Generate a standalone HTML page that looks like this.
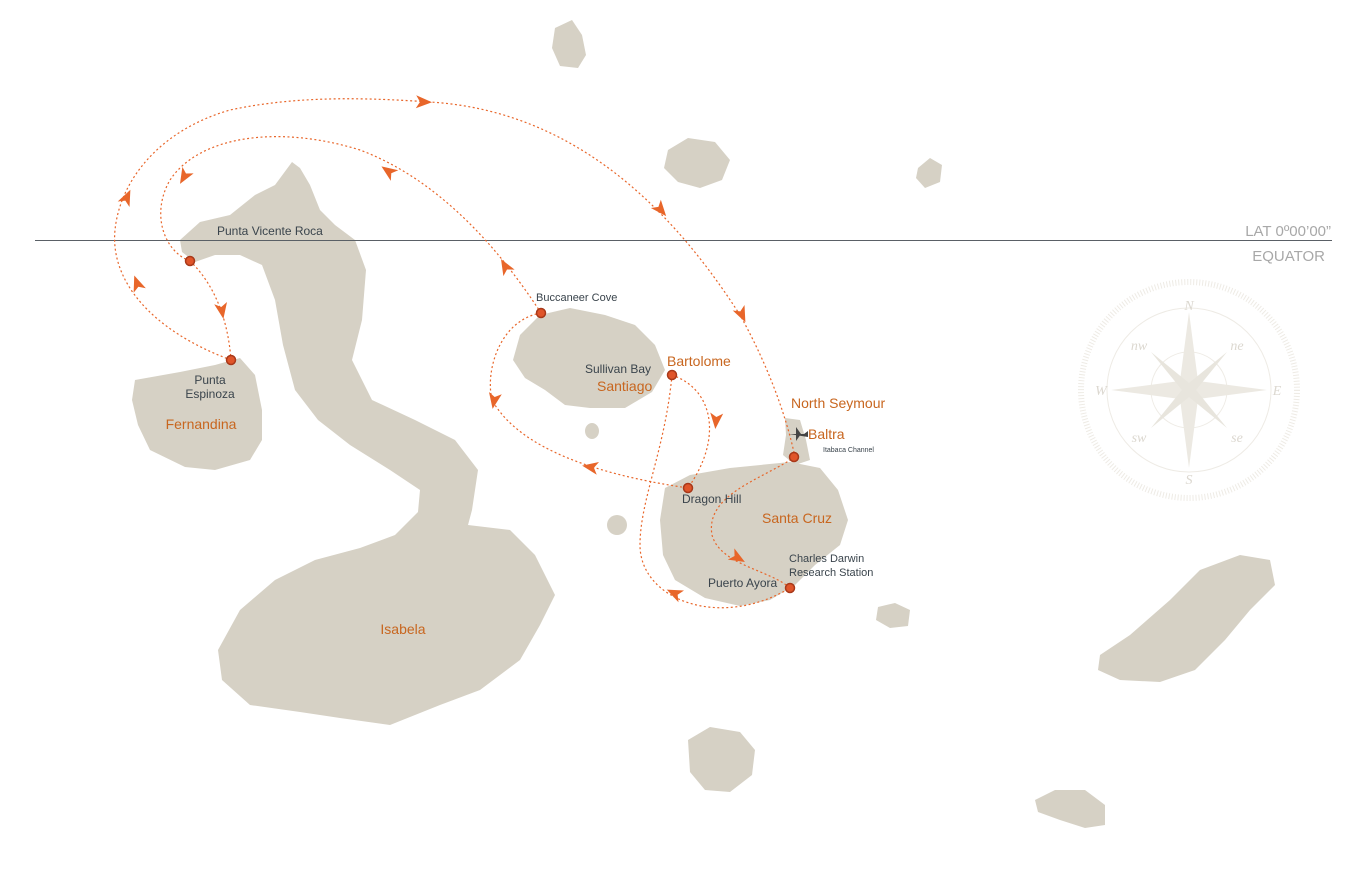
<!DOCTYPE html>
<html><head><meta charset="utf-8"><style>
html,body{margin:0;padding:0;background:#fff;}
svg{display:block;font-family:"Liberation Sans",sans-serif;}
.isl{fill:#d6d1c5;}
.rt{fill:none;stroke:#e8662a;stroke-width:1.2;stroke-dasharray:2 2.5;}
.ar{fill:#e8662a;}
.dot{fill:#e0552a;stroke:#a8391a;stroke-width:1.5;}
.lb{fill:#3a444c;font-size:12px;font-stretch:condensed;font-weight:500;}
.ob{fill:#c8661f;font-size:14px;}
.cp{fill:none;stroke:#eeebe5;}
</style></head><body>
<svg width="1363" height="878" viewBox="0 0 1363 878">
<path class="isl" d="M180,240 L200,222 L230,215 L255,195 L275,185 L292,162 L300,168 L310,185 L320,210 L335,225 L355,240 L366,270 L362,320 L352,360 L372,400 L415,420 L455,440 L478,470 L472,510 L468,525 L510,530 L535,555 L555,595 L540,625 L520,660 L480,690 L440,705 L390,725 L340,718 L300,712 L250,705 L222,680 L218,650 L240,610 L275,580 L315,560 L360,548 L395,535 L418,512 L420,490 L390,470 L350,445 L318,420 L295,390 L283,345 L275,300 L262,265 L240,255 L215,255 L195,262 L182,252Z"/>
<path class="isl" d="M135,380 L180,372 L215,365 L240,358 L255,375 L262,410 L262,440 L250,460 L215,470 L185,467 L150,450 L138,425 L132,400Z"/>
<path class="isl" d="M520,335 L540,315 L570,308 L605,315 L635,325 L655,345 L665,370 L652,392 L625,408 L590,408 L565,405 L545,390 L525,378 L513,360Z"/>
<path class="isl" d="M665,488 L690,475 L730,468 L790,462 L820,468 L838,490 L848,520 L840,545 L815,565 L795,585 L770,600 L740,606 L705,598 L675,580 L663,555 L660,520Z"/>
<path class="isl" d="M785,418 L800,420 L806,440 L810,460 L795,465 L783,455 L786,435Z"/>
<path class="isl" d="M555,28 L572,20 L582,35 L586,55 L578,68 L560,66 L552,48Z"/>
<path class="isl" d="M668,150 L688,138 L715,142 L730,160 L722,180 L700,188 L678,182 L664,168Z"/>
<path class="isl" d="M918,168 L930,158 L942,165 L940,182 L925,188 L916,178Z"/>
<path class="isl" d="M1100,655 L1130,635 L1170,600 L1200,570 L1240,555 L1270,560 L1275,585 L1250,610 L1225,640 L1195,670 L1160,682 L1120,680 L1098,670Z"/>
<path class="isl" d="M1035,800 L1055,790 L1085,790 L1105,805 L1105,825 L1085,828 L1060,820 L1038,812Z"/>
<path class="isl" d="M688,740 L710,727 L740,732 L755,750 L752,775 L730,792 L705,790 L690,772Z"/>
<path class="isl" d="M878,607 L895,603 L910,610 L908,626 L890,628 L876,620Z"/>
<ellipse class="isl" cx="617" cy="525" rx="10" ry="10"/>
<ellipse class="isl" cx="592" cy="431" rx="7" ry="8"/>
<line x1="35" y1="240.5" x2="1332" y2="240.5" stroke="#5a6066" stroke-width="1"/>
<text x="1331" y="236" text-anchor="end" fill="#a8a8a8" style="font-size:15px">LAT 0º00’00”</text>
<text x="1325" y="261" text-anchor="end" fill="#a8a8a8" style="font-size:15px">EQUATOR</text>
<g transform="translate(1189,390)">
<circle class="cp" r="108" stroke-width="6" stroke-dasharray="1 2"/>
<circle class="cp" r="82"/>
<circle class="cp" r="38"/>
<path d="M0,-78 L9,-9 L78,0 L9,9 L0,78 L-9,9 L-78,0 L-9,-9Z" fill="#ece9e2"/>
<path d="M38,-38 L7,0 L38,38 L0,7 L-38,38 L-7,0 L-38,-38 L0,-7Z" fill="#e8e5dd"/>
<g fill="#dcd8d0" font-family="Liberation Serif,serif" font-style="italic" style="font-size:14px" text-anchor="middle">
<text y="-80">N</text><text y="94">S</text><text x="-88" y="5">W</text><text x="88" y="5">E</text>
<text x="-50" y="-40">nw</text><text x="48" y="-40">ne</text><text x="-50" y="52">sw</text><text x="48" y="52">se</text>
</g>
</g>
<path class="rt" d="M190,261 C215,285 228,320 231,360"/>
<path class="rt" d="M231,360 C150,330 110,280 115,230 C120,180 160,130 230,110 C300,95 370,98 430,102 C560,110 660,190 740,315 C765,360 785,410 795,457"/>
<path class="rt" d="M541,313 C500,250 440,180 360,150 C280,125 200,135 170,180 C150,215 165,252 190,261"/>
<path class="rt" d="M541,313 C500,320 485,370 492,400 C520,450 600,475 688,488"/>
<path class="rt" d="M672,375 C715,390 722,440 688,488"/>
<path class="rt" d="M672,375 C665,450 640,500 640,545 C640,600 720,630 790,588"/>
<path class="rt" d="M795,457 C760,480 705,495 712,535 C720,565 770,570 790,588"/>
<g class="ar">
<path d="M8,0 L-8,-6.5 L-4,0 L-8,6.5Z" transform="translate(424,102) rotate(2)"/>
<path d="M8,0 L-8,-6.5 L-4,0 L-8,6.5Z" transform="translate(184,177) rotate(120)"/>
<path d="M8,0 L-8,-6.5 L-4,0 L-8,6.5Z" transform="translate(127,197) rotate(-65)"/>
<path d="M8,0 L-8,-6.5 L-4,0 L-8,6.5Z" transform="translate(137,283) rotate(-110)"/>
<path d="M8,0 L-8,-6.5 L-4,0 L-8,6.5Z" transform="translate(222,311) rotate(80)"/>
<path d="M8,0 L-8,-6.5 L-4,0 L-8,6.5Z" transform="translate(388,171) rotate(-145)"/>
<path d="M8,0 L-8,-6.5 L-4,0 L-8,6.5Z" transform="translate(505,266) rotate(-120)"/>
<path d="M8,0 L-8,-6.5 L-4,0 L-8,6.5Z" transform="translate(661,210) rotate(50)"/>
<path d="M8,0 L-8,-6.5 L-4,0 L-8,6.5Z" transform="translate(742,315) rotate(65)"/>
<path d="M8,0 L-8,-6.5 L-4,0 L-8,6.5Z" transform="translate(716,421) rotate(95)"/>
<path d="M8,0 L-8,-6.5 L-4,0 L-8,6.5Z" transform="translate(494,401) rotate(100)"/>
<path d="M8,0 L-8,-6.5 L-4,0 L-8,6.5Z" transform="translate(590,467) rotate(190)"/>
<path d="M8,0 L-8,-6.5 L-4,0 L-8,6.5Z" transform="translate(738,558) rotate(30)"/>
<path d="M8,0 L-8,-6.5 L-4,0 L-8,6.5Z" transform="translate(674,593) rotate(205)"/>
</g>
<circle class="dot" cx="190" cy="261" r="4.5"/>
<circle class="dot" cx="231" cy="360" r="4.5"/>
<circle class="dot" cx="541" cy="313" r="4.5"/>
<circle class="dot" cx="672" cy="375" r="4.5"/>
<circle class="dot" cx="688" cy="488" r="4.5"/>
<circle class="dot" cx="794" cy="457" r="4.5"/>
<circle class="dot" cx="790" cy="588" r="4.5"/>
<path d="M789,434 L804,434 L808,431 L808,437 Z M796,427 L801,434 L796,441 Z" fill="#444"/>
<text class="lb" x="217" y="235">Punta Vicente Roca</text>
<text class="lb" x="210" y="384" text-anchor="middle">Punta</text>
<text class="lb" x="210" y="398" text-anchor="middle">Espinoza</text>
<text class="ob" x="201" y="429" text-anchor="middle">Fernandina</text>
<text class="lb" x="536" y="301" style="font-size:11px">Buccaneer Cove</text>
<text class="lb" x="585" y="373">Sullivan Bay</text>
<text class="ob" x="597" y="391">Santiago</text>
<text class="ob" x="667" y="366">Bartolome</text>
<text class="ob" x="791" y="408">North Seymour</text>
<text class="ob" x="808" y="439">Baltra</text>
<text class="lb" x="823" y="452" style="font-size:7px">Itabaca Channel</text>
<text class="lb" x="682" y="503">Dragon Hill</text>
<text class="ob" x="762" y="523">Santa Cruz</text>
<text class="lb" x="789" y="562" style="font-size:11px">Charles Darwin</text>
<text class="lb" x="789" y="576" style="font-size:11px">Research  Station</text>
<text class="lb" x="708" y="587">Puerto Ayora</text>
<text class="ob" x="403" y="634" text-anchor="middle">Isabela</text>
</svg>
</body></html>
